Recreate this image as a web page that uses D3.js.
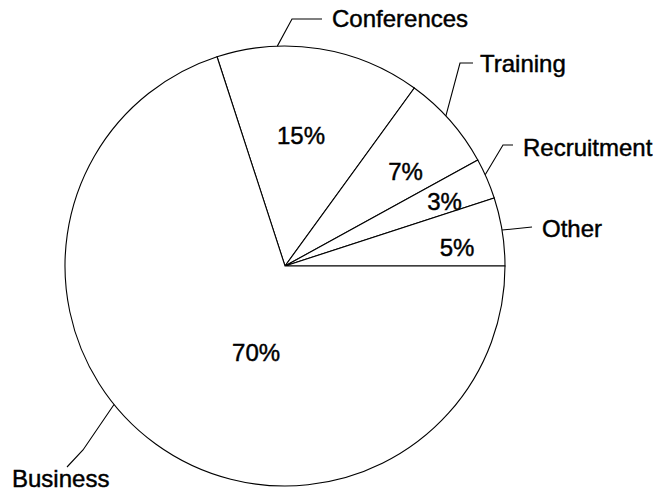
<!DOCTYPE html>
<html>
<head>
<meta charset="utf-8">
<script src="https://cdn.jsdelivr.net/npm/d3@7"></script>
<style>
  html, body { margin: 0; padding: 0; background: #fff; }
  svg { display: block; }
  text { font-family: "Liberation Sans", Arial, Helvetica, sans-serif; fill: #000; stroke: #000; stroke-width: 0.45px; }
</style>
</head>
<body>
<svg id="chart" width="666" height="494"></svg>
<script>
// ---- data ----
const categories = ["Conferences", "Training", "Recruitment", "Other", "Business"];
const values = [15, 7, 3, 5, 70];
const percentLabels = ["15%", "7%", "3%", "5%", "70%"];

// ---- layout (not data) ----
const cx = 285, cy = 266, R = 220;
const fontSize = 24;
// percent label placement: polar offset from center (deg clockwise from 12 o'clock), radius
const pctLayout = [
  { ang: 7,   r: 131 },
  { ang: 52,  r: 153 },
  { ang: 68,  r: 172 },
  { ang: 84,  r: 173 },
  { ang: 198.5, r: 91 }
];
// category label leader lines: anchor angle on arc, elbow & end points, text position
const nameLayout = [
  { ang: -2,   elbow: [292, 19],  end: [322, 19],  tx: 332, ty: 27 },
  { ang: 47,   elbow: [460, 63],  end: [473, 63],  tx: 480, ty: 72 },
  { ang: 65.5, elbow: [503, 145], end: [513, 145], tx: 523, ty: 156 },
  { ang: 80.6, elbow: null,       end: [532, 227], tx: 542, ty: 237 },
  { ang: 231,  elbow: [83, 450],  end: [67, 467],  tx: 12,  ty: 487 }
];

const svg = d3.select("#chart");
const g = svg.append("g").attr("transform", `translate(${cx},${cy})`);

// Conferences starts 18deg counter-clockwise from 12 o'clock, slices run clockwise
const pie = d3.pie().sort(null).value(d => d)
  .startAngle(-18 * Math.PI / 180)
  .endAngle((360 - 18) * Math.PI / 180);
const arcs = pie(values);
const arc = d3.arc().innerRadius(0).outerRadius(R);

g.selectAll("path.slice")
  .data(arcs)
  .join("path")
  .attr("class", "slice")
  .attr("d", arc)
  .attr("fill", "#fff")
  .attr("stroke", "#000")
  .attr("stroke-width", 1.1)
  .attr("stroke-linejoin", "miter");

// percent labels
g.selectAll("text.pct")
  .data(arcs)
  .join("text")
  .attr("class", "pct")
  .attr("x", (d, i) => pctLayout[i].r * Math.sin(pctLayout[i].ang * Math.PI / 180))
  .attr("y", (d, i) => -pctLayout[i].r * Math.cos(pctLayout[i].ang * Math.PI / 180))
  .attr("dy", "0.35em")
  .attr("text-anchor", "middle")
  .style("font-size", fontSize + "px")
  .text((d, i) => percentLabels[i]);

// leader lines + category labels
const line = d3.line();
nameLayout.forEach((L, i) => {
  const a = L.ang * Math.PI / 180;
  const p0 = [cx + R * Math.sin(a), cy - R * Math.cos(a)];
  const pts = L.elbow ? [p0, L.elbow, L.end] : [p0, L.end];
  svg.append("path")
    .attr("d", line(pts))
    .attr("fill", "none")
    .attr("stroke", "#000")
    .attr("stroke-width", 1.1);
  svg.append("text")
    .attr("x", L.tx)
    .attr("y", L.ty)
    .attr("text-anchor", "start")
    .style("font-size", fontSize + "px")
    .text(categories[i]);
});
</script>
</body>
</html>
